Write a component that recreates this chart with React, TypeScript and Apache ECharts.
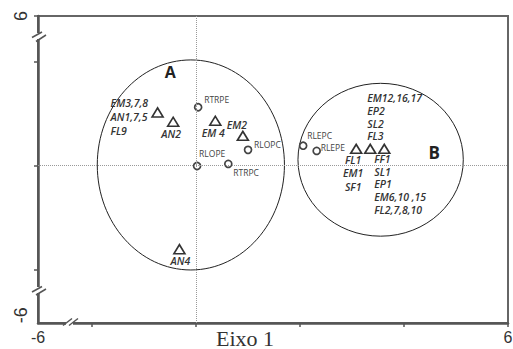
import React, { useEffect, useRef } from 'react';
import * as echarts from 'echarts';

// ---- data ----
const triangleNames = [
  'EM3,7,8\nAN1,7,5\nFL9',
  'AN2',
  'EM 4',
  'EM2',
  'AN4',
  'FL1\nEM1\nSF1',
  'EM12,16,17\nEP2\nSL2\nFL3',
  'FF1\nSL1\nEP1\nEM6,10 ,15\nFL2,7,8,10',
];
const triangleX = [-0.74, -0.44, 0.37, 0.9, -0.32, 3.08, 3.35, 3.62];
const triangleY = [1.02, 0.84, 0.86, 0.57, -1.61, 0.32, 0.32, 0.32];

const circleNames = ['RTRPE', 'RLOPC', 'RLOPE', 'RTRPC', 'RLEPC', 'RLEPE'];
const circleX = [0.04, 1.0, 0.02, 0.62, 2.06, 2.32];
const circleY = [1.12, 0.3, -0.01, 0.03, 0.38, 0.28];

const groupNames = ['A', 'B'];
const groupCenterX = [-0.1, 3.55];
const groupCenterY = [0.01, 0.11];
const groupRadiusX = [1.8, 1.59];
const groupRadiusY = [2.02, 1.47];

const xMin = -3.04; // axis break, labelled -6
const xMax = 6;
const yMin = -3.03; // axis break, labelled -6
const yMax = 2.875; // axis break, labelled 6
const xTickValues = [-2, 0, 2, 4, 6];
const yTickValues = [-2, 0, 2, 2.875];
const xLabelValues = [-3.04, 6];
const xTickLabels = ['-6', '6'];
const yLabelValues = [-2.88, 2.875];
const yTickLabels = ['-6', '6'];
const xAxisName = 'Eixo 1';

// ---- label styles (offsets in px) ----
const triLabelStyle = [
  { offset: [-47, 5], align: 'left', lineHeight: 14 },
  { offset: [-2, 12], align: 'center', lineHeight: 13 },
  { offset: [-2, 12], align: 'center', lineHeight: 13 },
  { offset: [-6, -11], align: 'center', lineHeight: 13 },
  { offset: [1, 12], align: 'center', lineHeight: 13 },
  { offset: [-3, 24.5], align: 'center', lineHeight: 13.5 },
  { offset: [-3, -31.5], align: 'left', lineHeight: 12.7 },
  { offset: [-10, 35.6], align: 'left', lineHeight: 12.7 },
];
const circLabelStyle = [
  { offset: [6, -8] },
  { offset: [6, -5] },
  { offset: [2, -12] },
  { offset: [5, 9] },
  { offset: [4, -10] },
  { offset: [4, -3] },
];
const groupLabelStyle = [
  { offset: [-20.5, -93], fontSize: 16 },
  { offset: [53.5, -7], fontSize: 17 },
];

const AXIS_COLOR = '#555';

export default function App() {
  const ref = useRef<HTMLDivElement>(null);

  useEffect(() => {
    if (!ref.current) return;
    const chart = echarts.init(ref.current, null, { renderer: 'svg' });

    const triData = triangleNames.map((n, i) => ({
      name: n,
      value: [triangleX[i], triangleY[i]],
      label: {
        offset: triLabelStyle[i].offset,
        align: triLabelStyle[i].align,
        lineHeight: triLabelStyle[i].lineHeight,
      },
    }));
    const circData = circleNames.map((n, i) => ({
      name: n,
      value: [circleX[i], circleY[i]],
      label: { offset: circLabelStyle[i].offset },
    }));
    const ellData = groupNames.map((n, i) => ({
      name: n,
      value: [groupCenterX[i], groupCenterY[i], groupRadiusX[i], groupRadiusY[i]],
    }));

    const option: any = {
      animation: false,
      backgroundColor: '#fff',
      grid: {
        left: 38,
        right: 5,
        top: 16,
        bottom: 26,
        containLabel: false,
        outerBoundsMode: 'none',
        show: true,
        borderColor: '#666',
        borderWidth: 2,
        backgroundColor: 'transparent',
      },
      xAxis: {
        type: 'value',
        min: xMin,
        max: xMax,
        name: xAxisName,
        nameLocation: 'middle',
        nameGap: 4,
        nameMoveOverlap: false,
        nameTextStyle: {
          fontFamily: '"Liberation Serif", "Times New Roman", serif',
          fontSize: 22,
          color: '#333',
          padding: [0, 56, 0, 0],
          verticalAlign: 'top',
        },
        axisLine: { show: true, onZero: false, lineStyle: { color: AXIS_COLOR, width: 2.5 } },
        axisTick: {
          show: true,
          customValues: xTickValues,
          length: 4,
          inside: false,
          lineStyle: { color: AXIS_COLOR, width: 1.5 },
        },
        axisLabel: {
          show: true,
          customValues: xLabelValues,
          formatter: (v: number) => (v < 0 ? xTickLabels[0] : xTickLabels[1]),
          fontFamily: '"Liberation Sans", Arial, sans-serif',
          fontSize: 16,
          color: '#333',
          margin: 6,
        },
        splitLine: { show: false },
      },
      yAxis: {
        type: 'value',
        min: yMin,
        max: yMax,
        axisLine: { show: true, onZero: false, lineStyle: { color: AXIS_COLOR, width: 2.5 } },
        axisTick: {
          show: true,
          customValues: yTickValues,
          length: 4,
          inside: false,
          lineStyle: { color: AXIS_COLOR, width: 1.5 },
        },
        axisLabel: {
          show: true,
          customValues: yLabelValues,
          formatter: (v: number) => (v < 0 ? yTickLabels[0] : yTickLabels[1]),
          rotate: 90,
          fontFamily: '"Liberation Sans", Arial, sans-serif',
          fontSize: 18,
          color: '#333',
          margin: 8,
        },
        splitLine: { show: false },
      },
      series: [
        {
          type: 'custom',
          name: 'groups',
          coordinateSystem: 'cartesian2d',
          encode: { x: 0, y: 1 },
          silent: true,
          z: 1,
          data: ellData,
          renderItem: (params: any, api: any) => {
            const idx = params.dataIndex;
            const c = api.coord([api.value(0), api.value(1)]);
            const s = api.size([api.value(2), api.value(3)], [api.value(0), api.value(1)]);
            const st = groupLabelStyle[idx];
            return {
              type: 'group',
              children: [
                {
                  type: 'ellipse',
                  shape: { cx: c[0], cy: c[1], rx: s[0], ry: s[1] },
                  style: { fill: 'none', stroke: '#222', lineWidth: 1 },
                },
                {
                  type: 'text',
                  x: c[0] + st.offset[0],
                  y: c[1] + st.offset[1],
                  style: {
                    text: groupNames[idx],
                    fontFamily: '"Open Sans", "Liberation Sans", sans-serif',
                    fontWeight: 'bold',
                    fontSize: st.fontSize,
                    fill: '#222',
                    align: 'center',
                    verticalAlign: 'middle',
                  },
                },
              ],
            };
          },
        },
        {
          type: 'scatter',
          name: 'triangles',
          symbol: 'triangle',
          symbolSize: [11, 9],
          z: 3,
          itemStyle: { color: '#fff', borderColor: '#333', borderWidth: 1.6, opacity: 1 },
          label: {
            show: true,
            position: 'inside',
            formatter: '{b}',
            fontFamily: '"Open Sans", "Liberation Sans", sans-serif',
            fontStyle: 'italic',
            fontWeight: 600,
            fontSize: 10.5,
            color: '#333',
            verticalAlign: 'middle',
          },
          data: triData,
          markLine: {
            silent: true,
            symbol: 'none',
            label: { show: false },
            lineStyle: { type: 'dotted', color: '#999', width: 1 },
            data: [{ xAxis: 0 }, { yAxis: 0 }],
          },
        },
        {
          type: 'scatter',
          name: 'circles',
          symbol: 'circle',
          symbolSize: 7,
          z: 3,
          itemStyle: { color: '#fff', borderColor: '#444', borderWidth: 1.7, opacity: 1 },
          label: {
            show: true,
            position: 'inside',
            formatter: '{b}',
            fontFamily: '"Open Sans", "Liberation Sans", sans-serif',
            fontSize: 8.5,
            color: '#444',
            align: 'left',
            verticalAlign: 'middle',
          },
          data: circData,
        },
      ],
      graphic: [
        // y-axis break (top)
        { type: 'rect', z: 100, shape: { x: 34, y: 33, width: 8, height: 6 }, style: { fill: '#fff' } },
        { type: 'line', z: 101, shape: { x1: 32, y1: 37.5, x2: 42, y2: 32 }, style: { stroke: AXIS_COLOR, lineWidth: 1.5 } },
        { type: 'line', z: 101, shape: { x1: 36, y1: 41.5, x2: 46, y2: 35 }, style: { stroke: AXIS_COLOR, lineWidth: 1.5 } },
        // y-axis break (bottom)
        { type: 'rect', z: 100, shape: { x: 34, y: 287, width: 8, height: 6 }, style: { fill: '#fff' } },
        { type: 'line', z: 101, shape: { x1: 32, y1: 292, x2: 42, y2: 286.5 }, style: { stroke: AXIS_COLOR, lineWidth: 1.5 } },
        { type: 'line', z: 101, shape: { x1: 36, y1: 295, x2: 46, y2: 289 }, style: { stroke: AXIS_COLOR, lineWidth: 1.5 } },
        // x-axis break
        { type: 'rect', z: 100, shape: { x: 66, y: 320, width: 7, height: 6 }, style: { fill: '#fff' } },
        { type: 'line', z: 101, shape: { x1: 63, y1: 325.5, x2: 72, y2: 318.5 }, style: { stroke: AXIS_COLOR, lineWidth: 1.5 } },
        { type: 'line', z: 101, shape: { x1: 69, y1: 325.5, x2: 78, y2: 318.5 }, style: { stroke: AXIS_COLOR, lineWidth: 1.5 } },
      ],
    };

    chart.setOption(option);
    return () => chart.dispose();
  }, []);

  return (
    <div
      ref={ref}
      style={{ position: 'absolute', left: 0, top: 0, width: 513, height: 349, background: '#fff' }}
    />
  );
}
